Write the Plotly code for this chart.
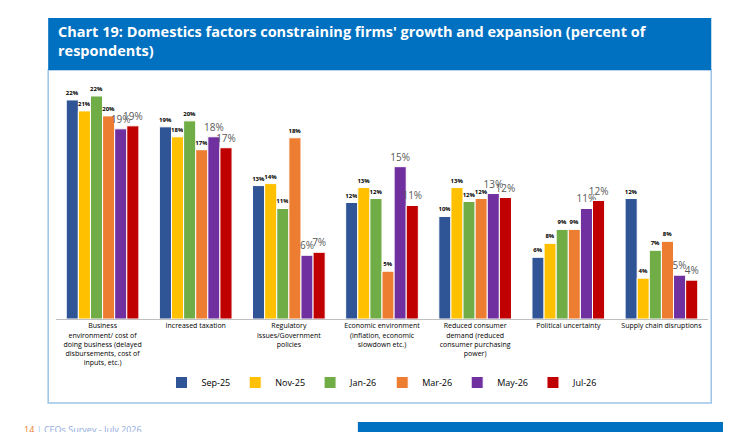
import plotly.graph_objects as go

categories = [
    "Business<br>environment/ cost of<br>doing business (delayed<br>disbursements, cost of<br>inputs, etc.)",
    "Increased taxation",
    "Regulatory<br>issues/Government<br>policies",
    "Economic environment<br>(inflation, economic<br>slowdown etc.)",
    "Reduced consumer<br>demand (reduced<br>consumer purchasing<br>power)",
    "Political uncertainty",
    "Supply chain disruptions",
]
series_names = ["Sep-25", "Nov-25", "Jan-26", "Mar-26", "May-26", "Jul-26"]
colors = ["#2F5597", "#FFC000", "#70AD47", "#ED7D31", "#7030A0", "#C00000"]
values = [
    [22.0, 19.3, 13.4, 11.7, 10.3, 6.2, 12.1],
    [20.9, 18.3, 13.6, 13.2, 13.2, 7.6, 4.1],
    [22.4, 19.9, 11.1, 12.1, 11.8, 9.0, 6.9],
    [20.4, 17.0, 18.2, 4.8, 12.1, 9.0, 7.8],
    [19.1, 18.3, 6.4, 15.3, 12.6, 11.1, 4.4],
    [19.4, 17.2, 6.7, 11.4, 12.2, 11.9, 3.9],
]
labels = [
    [22, 19, 13, 12, 10, 6, 12],
    [21, 18, 14, 13, 13, 8, 4],
    [22, 20, 11, 12, 12, 9, 7],
    [20, 17, 18, 5, 12, 9, 8],
    [19, 18, 6, 15, 13, 11, 5],
    [19, 17, 7, 11, 12, 12, 4],
]

fig = go.Figure()
for i, name in enumerate(series_names):
    big = i >= 4
    fig.add_trace(go.Bar(
        x=categories, y=values[i], name=name,
        marker=dict(color=colors[i], line=dict(color="white", width=1)),
        text=[f"{v}%" if big else f"<b>{v}%</b>" for v in labels[i]],
        textposition="outside", cliponaxis=False, constraintext="none",
        textfont=dict(size=10 if big else 6, color="#595959" if big else "black"),
    ))

H = 231
fig.update_layout(
    width=731, height=432,
    margin=dict(l=48, r=31, t=80, b=121, autoexpand=False),
    paper_bgcolor="white", plot_bgcolor="white",
    font=dict(family="Open Sans", color="black"),
    barmode="group", bargap=0.22, bargroupgap=0,
    showlegend=True,
    legend=dict(orientation="h", x=0.5, xanchor="center", y=-(360 - 311) / H, yanchor="top",
                font=dict(size=9), traceorder="normal", itemwidth=30),
    xaxis=dict(tickfont=dict(size=7), tickangle=0, showline=True, automargin=False,
               linecolor="#BFBFBF", linewidth=1, ticks=""),
    yaxis=dict(range=[0, 23.2], visible=False, automargin=False),
    shapes=[
        dict(type="rect", xref="paper", yref="paper", x0=-0.012, x1=1.005,
             y0=-(395 - 311) / H, y1=1.0 + 18 / H, line=dict(color="#9DC3E6", width=1.5),
             fillcolor="rgba(0,0,0,0)", layer="below"),
        dict(type="rect", xref="paper", yref="paper", x0=-0.012, x1=1.005,
             y0=1.0 + 18 / H, y1=1.0 + 70 / H, line=dict(width=0),
             fillcolor="#0070C0"),
        dict(type="rect", xref="paper", yref="paper", x0=0.463, x1=1.05,
             y0=-(425 - 311) / H, y1=-(414 - 311) / H, line=dict(width=0),
             fillcolor="#0070C0"),
    ],
    annotations=[
        dict(text="<b>Chart 19: Domestics factors constraining firms' growth and expansion (percent of<br>respondents)</b>",
             xref="paper", yref="paper", x=0.0, y=1.0 + 68 / H, xanchor="left", yanchor="top",
             align="left", showarrow=False, font=dict(size=14.5, color="white", family="Open Sans")),
        dict(text="<span style='color:#ED7D31'>14</span><span style='color:#9DC3E6'> | </span>CEOs Survey - July 2026",
             xref="paper", yref="paper", x=-0.052, y=-(421 - 311) / H, xanchor="left", yanchor="middle",
             showarrow=False, font=dict(size=9, color="#8FAADC")),
    ],
)

fig.write_html("out.html")
